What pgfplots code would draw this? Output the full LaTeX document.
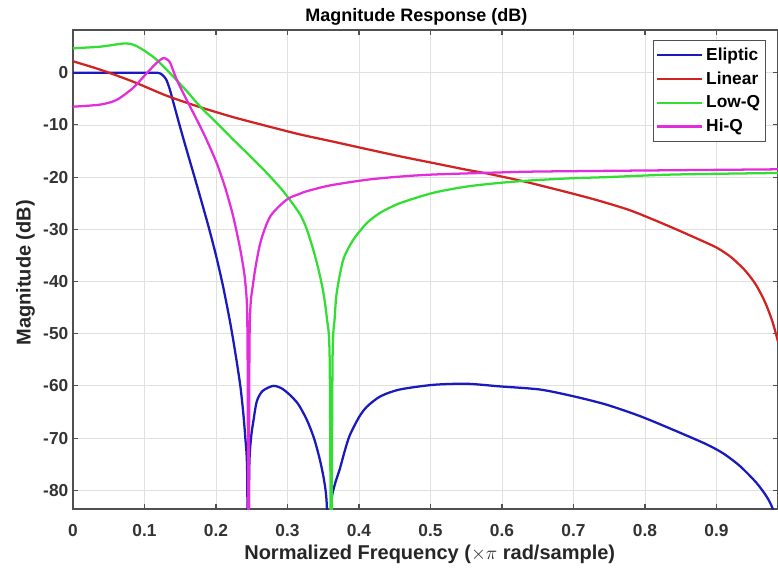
\documentclass[border=0pt]{standalone}
\usepackage{fontspec}
\setmainfont{Liberation Sans}
\usepackage{pgfplots}
\pgfplotsset{compat=1.18}
\definecolor{cblue}{RGB}{25,25,190}
\definecolor{cred}{RGB}{210,35,35}
\definecolor{cgreen}{RGB}{50,222,50}
\definecolor{cmag}{RGB}{228,45,218}
\definecolor{axgray}{RGB}{80,80,80}
\begin{document}
\begin{tikzpicture}
\begin{axis}[
  at={(0,0)}, anchor=south west,
  scale only axis, width=528.75pt, height=359.25pt,
  xmin=0, xmax=0.986, ymin=-83.6, ymax=8.2,
  xtick={0,0.1,0.2,0.3,0.4,0.5,0.6,0.7,0.8,0.9},
  xticklabels={0,0.1,0.2,0.3,0.4,0.5,0.6,0.7,0.8,0.9},
  ytick={-80,-70,-60,-50,-40,-30,-20,-10,0},
  yticklabels={-80,-70,-60,-50,-40,-30,-20,-10,0},
  grid=major,
  major grid style={line width=0.6pt, color=black!12},
  tick align=inside,
  major tick length=4pt,
  axis line style={axgray, line width=0.8pt},
  tick style={axgray, line width=0.8pt},
  tick label style={font=\bfseries\fontsize{13}{15}\selectfont, text=black!80},
  xticklabel style={yshift=-8pt},
  /pgf/number format/assume math mode=true,
  title={Magnitude Response (dB)},
  title style={font=\bfseries\fontsize{13.5}{15}\selectfont, at={(0.487,1)}, anchor=south, yshift=-6pt},
  xlabel={Normalized Frequency ($\times\pi$ rad/sample)},
  ylabel={Magnitude (dB)},
  label style={font=\bfseries\fontsize{15}{17}\selectfont, text=black!85},
  xlabel style={at={(axis description cs:0.506,0)}, anchor=center, yshift=-34pt},
  ylabel style={at={(axis description cs:-0.0675,0.493)}, anchor=center},
  legend style={at={(0.983,0.979)}, anchor=north east, draw=axgray, line width=0.8pt,
    font=\bfseries\fontsize{13}{15}\selectfont, row sep=3pt, inner xsep=2pt, inner ysep=3.5pt},
  legend cell align=left,
  legend image code/.code={\draw[#1, line width=1.7pt] (0pt,0pt) -- (34pt,0pt);},
  every axis plot/.append style={line width=1.7pt, line join=round, smooth, tension=0.45},
]
\addplot[cblue] coordinates {
(0,0) (0.05,0) (0.10,0) (0.118,0) (0.124,-0.3) (0.130,-1.2) (0.135,-3.0) (0.14,-5.5)
(0.15,-10.5) (0.16,-15.3) (0.17,-20) (0.18,-24.8) (0.19,-29.7) (0.20,-35) (0.21,-41)
(0.22,-48) (0.228,-54.5) (0.234,-60) (0.238,-65) (0.241,-70) (0.2435,-76)
(0.245,-100) (0.2465,-76) (0.249,-70) (0.252,-67) (0.257,-63) (0.265,-61) (0.28,-60)
(0.292,-60.5) (0.303,-61.7) (0.315,-63.5) (0.327,-66.5) (0.337,-70) (0.345,-74) (0.351,-78)
(0.355,-83) (0.358,-100) (0.361,-83) (0.366,-79) (0.373,-76) (0.38,-72.5) (0.387,-69.5)
(0.40,-66) (0.411,-64) (0.43,-62) (0.457,-60.7) (0.504,-59.8) (0.551,-59.6) (0.597,-60.1)
(0.653,-60.7) (0.70,-62) (0.746,-63.6) (0.793,-65.8) (0.839,-68.4) (0.886,-71.2) (0.91,-73)
(0.933,-75.4) (0.956,-78.6) (0.97,-81.2) (0.977,-83) (0.985,-86)
};
\addlegendentry{Eliptic}
\addplot[cred] coordinates {
(0,2.2) (0.038,0.6) (0.084,-1.7) (0.131,-4.4) (0.178,-6.6) (0.224,-8.5) (0.271,-10.2)
(0.317,-11.8) (0.364,-13.2) (0.41,-14.6) (0.457,-16) (0.504,-17.3) (0.551,-18.6) (0.579,-19.3)
(0.63,-20.8) (0.68,-22.5) (0.73,-24.3) (0.78,-26.4) (0.83,-29.2) (0.87,-31.6) (0.90,-33.5)
(0.92,-35.3) (0.94,-37.9) (0.955,-40.6) (0.968,-44) (0.978,-47.6) (0.986,-51.5)
};
\addlegendentry{Linear}
\addplot[cgreen] coordinates {
(0,4.7) (0.038,5.0) (0.07,5.6) (0.084,5.4) (0.098,4.4) (0.117,2.5) (0.14,-0.7) (0.159,-3.5)
(0.178,-6.5) (0.201,-9.6) (0.224,-12.8) (0.248,-16) (0.271,-19.2) (0.294,-22.7) (0.317,-27)
(0.327,-30) (0.336,-33.9) (0.343,-37.5) (0.35,-42) (0.355,-47) (0.359,-55) (0.361,-100)
(0.363,-55) (0.366,-47) (0.369,-42) (0.378,-35.8) (0.392,-32) (0.411,-28.8) (0.43,-26.8)
(0.457,-25) (0.504,-23) (0.551,-21.8) (0.597,-21.1) (0.644,-20.6) (0.70,-20.2) (0.746,-20)
(0.84,-19.5) (0.986,-19.2)
};
\addlegendentry{Low-Q}
\addplot[cmag] coordinates {
(0,-6.5) (0.038,-6.1) (0.061,-5.2) (0.084,-2.9) (0.103,-0.1) (0.117,1.9) (0.126,2.8)
(0.131,2.6) (0.136,1.9) (0.145,-1.3) (0.159,-5.2) (0.178,-10.3) (0.19,-13.8) (0.201,-17.3)
(0.21,-20.8) (0.215,-23) (0.224,-27.5) (0.234,-33.9) (0.241,-40.2) (0.244,-50) (0.2455,-100)
(0.247,-50) (0.252,-40.3) (0.262,-32.6) (0.276,-27.5) (0.299,-24.3) (0.317,-23.2) (0.327,-22.7)
(0.359,-21.6) (0.411,-20.5) (0.457,-19.9) (0.504,-19.5) (0.597,-19.1) (0.667,-18.9) (0.986,-18.5)
};
\addlegendentry{Hi-Q}
\end{axis}
\pgfresetboundingbox
\path (-54.75pt,-46.5pt) rectangle (528.75pt,381.75pt);
\end{tikzpicture}
\end{document}
